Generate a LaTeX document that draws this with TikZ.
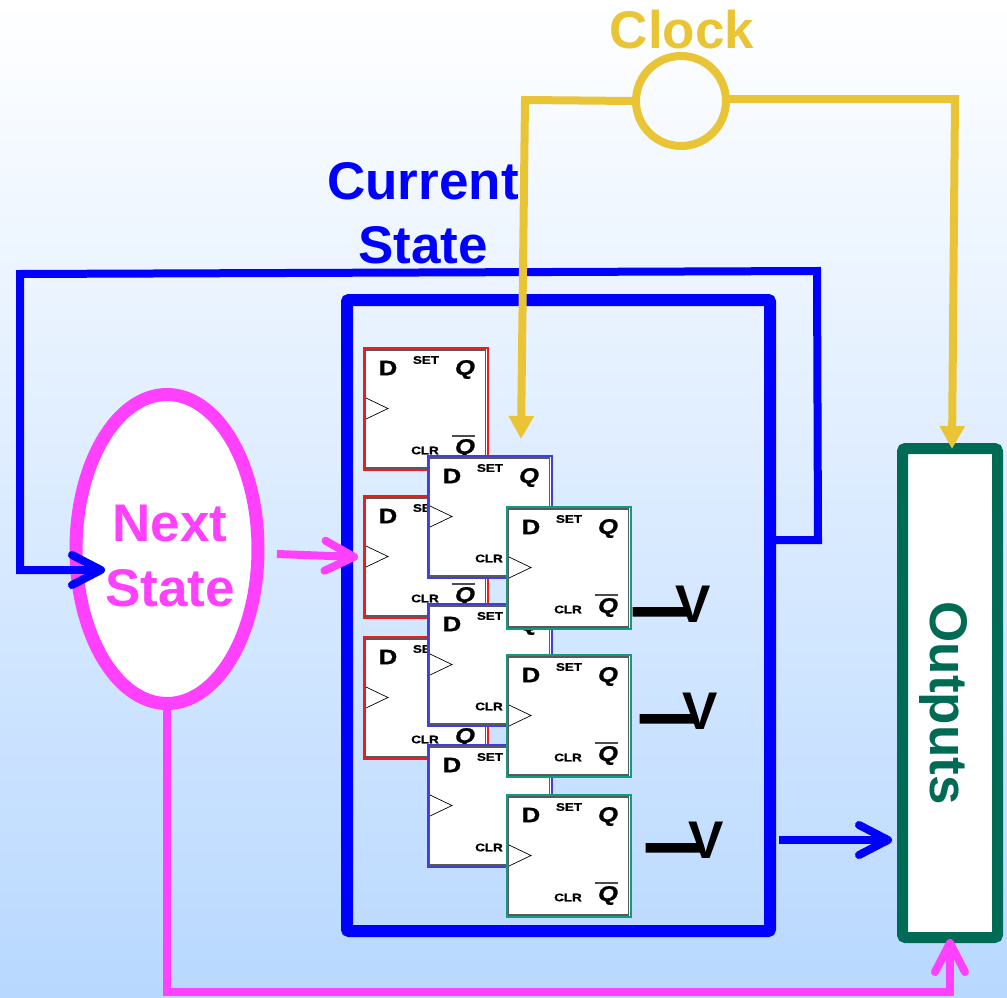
\documentclass[tikz,border=0pt]{standalone}
\usepackage{fontspec}
\setmainfont{Liberation Sans}
\usetikzlibrary{arrows.meta,shapes.geometric}
\definecolor{pureblue}{HTML}{0000FF}
\definecolor{pinkc}{HTML}{FF40FF}
\definecolor{goldc}{HTML}{E9C536}
\definecolor{greenc}{HTML}{006B54}
\definecolor{ffred}{HTML}{F01C1C}
\definecolor{ffblue}{HTML}{4040D8}
\definecolor{ffgreen}{HTML}{109A80}
\definecolor{skyc}{HTML}{B8D8FF}
\newcommand{\wideface}{\addfontfeature{FakeStretch=1.22,FakeBold=1}}
\newcommand{\heavydash}{\raisebox{-3.5pt}{\addfontfeature{FakeBold=8}—}}
\tikzset{
  bigtext/.style={font=\fontsize{53}{53}\selectfont\bfseries,inner sep=0pt},
  ffouter/.style={draw=#1,line width=1.7pt,fill=white,minimum width=124pt,minimum height=122pt,inner sep=0pt},
  ffinner/.style={draw=black!65,line width=1.2pt,fill=white,minimum width=120pt,minimum height=118pt,inner sep=0pt},
  ffbig/.style={font=\fontsize{21}{21}\selectfont\bfseries\wideface,inner sep=0pt},
  ffqq/.style={font=\fontsize{21}{21}\selectfont\bfseries\itshape\wideface,inner sep=0pt},
  ffsmall/.style={font=\fontsize{11}{11}\selectfont\bfseries\wideface,inner sep=0pt},
  wire/.style={line width=8pt},
  openhead/.style={-{Straight Barb[length=29pt,width=30pt,round]}},
  goldhead/.style={-{Triangle[length=23pt,width=24pt]}},
  vmark/.style={bigtext,black}
}
\newcommand{\ffbox}[4]{%
\begin{scope}[shift={(#2,#3)}]
  \node[ffouter=#4] (#1out) at (63,62) {};
  \node[ffinner] (#1in) at (62.5,62) {};
  \node[ffbig] (#1d) at (25,21) {D};
  \node[ffsmall] (#1set) at (63,13) {SET};
  \node[ffqq] (#1q) at (102,22.5) {Q};
  \node[ffsmall] (#1clr) at (62,103.5) {CLR};
  \node[ffqq] (#1nq) at (102,101.5) {Q};
  \draw[black!70,line width=1.2pt] (89,89) -- (112,89);
  \draw[black,line width=0.7pt] (3,51) -- (25,61.5) -- (3,72);
\end{scope}}
\begin{document}
\begin{tikzpicture}[x=1pt,y=-1pt]
\useasboundingbox (0,0) rectangle (1007,998);
\shade[top color=white,bottom color=skyc] (0,0) rectangle (1007,998);

% free ends / corners
\coordinate (clockL) at (633,101);
\coordinate (clockCL) at (525,100);
\coordinate (clockTip) at (521,439);
\coordinate (clockR) at (729,99);
\coordinate (clockCR) at (955,99);
\coordinate (outTop) at (952,449);
\coordinate (fbStart) at (776,540);
\coordinate (fbA) at (818,540);
\coordinate (fbB) at (817,271);
\coordinate (fbC) at (20,274);
\coordinate (fbD) at (20,570);
\coordinate (fbTip) at (105,570);
\coordinate (nsOut) at (277,554);
\coordinate (nsTip) at (358,557);
\coordinate (pkA) at (167,706);
\coordinate (pkB) at (167,992);
\coordinate (pkC) at (950,992);
\coordinate (pkTip) at (950,939);
\coordinate (csOut) at (779,840);
\coordinate (csTip) at (892,840);

% current-state box
\node[draw=pureblue,line width=12pt,rounded corners=2pt,minimum width=423pt,minimum height=631pt,inner sep=0pt] (csbox) at (558.5,615.5) {};

% feedback wire
\draw[wire,pureblue] (fbStart) -- (fbA) -- (fbB) -- (fbC) -- (fbD) -- (fbTip);

% next state
\node[draw=pinkc,line width=13pt,fill=white,ellipse,minimum width=182pt,minimum height=309pt,inner sep=0pt] (ns) at (167,549) {};
\node[bigtext,pinkc] (nst1) at (170,524) {Next};
\node[bigtext,pinkc] (nst2) at (170,588) {State};
\draw[wire,pureblue,openhead] (fbD) -- (fbTip);
\draw[wire,pinkc,openhead] (nsOut) -- (nsTip);
\draw[wire,pinkc,line cap=rect] (pkA) -- (pkB) -- (pkC) -- (pkTip);

% flip-flops
\ffbox{ra}{363}{347}{ffred}
\ffbox{rb}{363}{495}{ffred}
\ffbox{rc}{363}{636}{ffred}
\ffbox{ba}{427}{455}{ffblue}
\ffbox{bb}{427}{603}{ffblue}
\ffbox{bc}{427}{744}{ffblue}
\ffbox{ga}{506}{506}{ffgreen}
\ffbox{gb}{506}{654}{ffgreen}
\ffbox{gc}{506}{794}{ffgreen}

% V labels
\node[vmark] (v1) at (673,606) {\heavydash\kern-12pt V};
\node[vmark] (v2) at (680,713) {\heavydash\kern-12pt V};
\node[vmark] (v3) at (686,842) {\heavydash\kern-12pt V};

% outputs
\node[draw=greenc,line width=11pt,fill=white,rounded corners=3pt,minimum width=95pt,minimum height=489pt,inner sep=0pt] (outbox) at (950,693) {};
\node[bigtext,greenc,rotate=-90] (outt) at (943,703) {Outputs};
\draw[wire,pureblue,openhead] (csOut) -- (csTip);
\draw[wire,pinkc,openhead] (pkC) -- (pkTip);

% clock
\node[draw=goldc,line width=8pt,circle,minimum size=90pt,inner sep=0pt] (clk) at (681,101) {};
\draw[wire,goldc,goldhead] (clockL) -- (clockCL) -- (clockTip);
\draw[wire,goldc,goldhead] (clockR) -- (clockCR) -- (outTop);
\node[bigtext,goldc] (clkt) at (682,30) {Clock};

% current state label
\node[bigtext,pureblue] (cst1) at (423,181) {Current};
\node[bigtext,pureblue] (cst2) at (423,245) {State};
\end{tikzpicture}
\end{document}
